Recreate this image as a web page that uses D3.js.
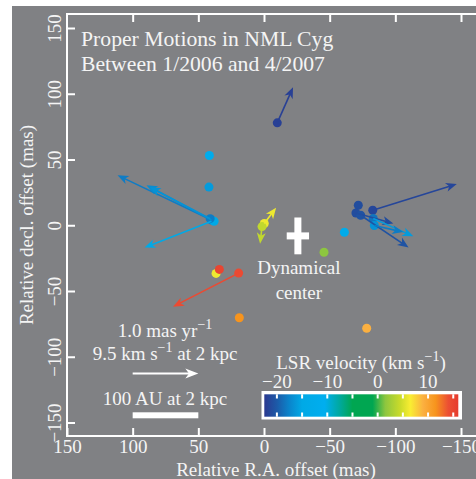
<!DOCTYPE html>
<html>
<head>
<meta charset="utf-8">
<script src="https://cdn.jsdelivr.net/npm/d3@7"></script>
<style>
  body { margin: 0; background: #fff; }
  text { font-family: "Liberation Serif", "Times New Roman", serif; fill: #f4f4f4; }
</style>
</head>
<body>
<div id="chart"></div>
<script>
// tick values
const xTicks = [150, 100, 50, 0, -50, -100, -150];
const yTicks = [150, 100, 50, 0, -50, -100, -150];
const velTicks = [-20, -15, -10, -5, 0, 5, 10, 15];
const velLabels = [-20, -10, 0, 10];

// colour bar (LSR velocity, km/s)
const velStops  = [-22.5, -20, -17.5, -15, -10.5, -7.5, -5, -1, 1.5, 4.5, 6.5, 9, 11.5, 14, 16];
const velColors = ["#2b3990", "#1c5aa8", "#0a85cc", "#00a9e6", "#00aeef", "#00a99d", "#00a651", "#00a651",
                   "#8dc63f", "#cbdb2a", "#f9ed32", "#fbb040", "#f7941d", "#ec4f33", "#e63b2e"];

// maser spots: RA offset, Dec offset (mas), LSR velocity (km/s)
const spotRa  = [-10.1, 41.6, 41.9, 40, 38, 41, -0.2, 1.5, -45.7, -61.2, -71.8, -70, -73.6, -82.8, -83.2, -84, 36.5, 34, 19.3, 18.8, -78.2];
const spotDec = [77.9, 53, 29, 4, 3, 5, 1.3, -1, -20.5, -5.3, 15.2, 9.3, 7.6, 11.4, 5.1, -0.2, -36.6, -33.6, -36.4, -70.3, -78.3];
const spotVel = [-22, -12, -16, -17, -15, -18, 6, 4, 1.5, -13, -21, -21, -20.5, -21.5, -18.5, -16.5, 6, 15, 14.5, 11.5, 9];

// proper motions: start RA, Dec (mas), motion (mas/yr), LSR velocity
const pmStartRa  = [-10.1, 40, 40, 41, 40, -82.8, -70, -83.2, -73.6, -84, -0.2, 1.5, 19.3];
const pmStartDec = [77.9, 4, 4, 5, 3, 11.4, 9.3, 5.1, 7.6, -0.2, 1.3, -1, -36.4];
const pmRa  = [-0.24, 1.43, 0.99, 0.92, 1.02, -1.28, -0.57, -0.61, -0.73, -0.44, -0.18, 0.03, 1.0];
const pmDec = [0.54, 0.68, 0.53, 0.48, -0.40, 0.40, -0.16, -0.27, -0.49, -0.10, 0.24, -0.26, -0.51];
const pmVel = [-22, -18, -17, -16.5, -15, -21.5, -21, -16, -20.5, -18, 6, 4, 14.5];

// dynamical center and its uncertainty (mas)
const centerPos = [-25.8, -8.1];
const centerErr = [8.5, 14];

const arrowScale = 50; // mas drawn per 1 mas/yr

const W = 476, H = 479;
const frame = { left: 67, top: 14, right: 500, bottom: 436 };

const svg = d3.select("#chart").append("svg")
    .attr("width", W)
    .attr("height", H);

svg.append("rect")
    .attr("x", 12).attr("y", 6)
    .attr("width", W - 12).attr("height", H - 6)
    .attr("fill", "#808184");

const x = d3.scaleLinear().domain([150, -150]).range([67, 461]);
const y = d3.scaleLinear().domain([-150, 150]).range([422.5, 28]);
const color = d3.scaleLinear().domain(velStops).range(velColors);

// axes (ticks point inward)
function styleAxis(g) {
    g.attr("font-family", null).attr("font-size", 19);
    g.select(".domain").remove();
    g.selectAll(".tick line").attr("stroke", "#fff").attr("stroke-width", 2);
}

svg.append("g")
    .attr("transform", `translate(0,${frame.bottom})`)
    .call(d3.axisBottom(x).tickValues(xTicks).tickSizeInner(-8).tickSizeOuter(0).tickFormat(d3.format("d")))
    .call(styleAxis)
    .selectAll("text").attr("y", 17).attr("dy", 0);

svg.append("g")
    .attr("transform", `translate(0,${frame.top})`)
    .call(d3.axisTop(x).tickValues(xTicks.slice(1)).tickSizeInner(-8).tickSizeOuter(0).tickFormat(""))
    .call(styleAxis);

svg.append("g")
    .attr("transform", `translate(${frame.left},0)`)
    .call(d3.axisLeft(y).tickValues(yTicks).tickSizeInner(-8).tickSizeOuter(0).tickFormat(d3.format("d")))
    .call(styleAxis)
    .selectAll("text")
    .attr("x", 0).attr("y", 0).attr("dy", 0)
    .attr("text-anchor", "middle")
    .attr("transform", "translate(-6,0) rotate(-90)");

// frame lines
svg.append("path")
    .attr("d", `M${frame.right},${frame.top}H${frame.left}V${frame.bottom}H${frame.right}`)
    .attr("fill", "none")
    .attr("stroke", "#fff")
    .attr("stroke-width", 2);

// arrow helper
function drawArrow(g, x1, y1, x2, y2, col, width, headLen, headW) {
    const a = Math.atan2(y2 - y1, x2 - x1);
    g.append("line")
        .attr("x1", x1).attr("y1", y1)
        .attr("x2", x2 - Math.cos(a) * headLen * 0.6)
        .attr("y2", y2 - Math.sin(a) * headLen * 0.6)
        .attr("stroke", col)
        .attr("stroke-width", width);
    g.append("path")
        .attr("d", `M0,0L${-headLen},${-headW}L${-headLen * 0.72},0L${-headLen},${headW}Z`)
        .attr("transform", `translate(${x2},${y2}) rotate(${a * 180 / Math.PI})`)
        .attr("fill", col);
}

// spots
const spots = spotRa.map((d, i) => ({ ra: d, dec: spotDec[i], v: spotVel[i] }));
svg.append("g").selectAll("circle")
    .data(spots)
    .join("circle")
    .attr("cx", d => x(d.ra))
    .attr("cy", d => y(d.dec))
    .attr("r", 4.5)
    .attr("fill", d => color(d.v));

// proper motion arrows
const arrows = svg.append("g");
pmRa.forEach((d, i) => {
    const ra0 = pmStartRa[i], dec0 = pmStartDec[i];
    drawArrow(arrows,
        x(ra0), y(dec0),
        x(ra0 + d * arrowScale), y(dec0 + pmDec[i] * arrowScale),
        color(pmVel[i]), 1.6, 11, 4.5);
});

// dynamical center
const cx = x(centerPos[0]), cy = y(centerPos[1]);
svg.append("rect")
    .attr("x", x(centerPos[0] + centerErr[0]))
    .attr("y", cy - 3.5)
    .attr("width", x(centerPos[0] - centerErr[0]) - x(centerPos[0] + centerErr[0]))
    .attr("height", 7)
    .attr("fill", "#fff");
svg.append("rect")
    .attr("x", cx - 3.5)
    .attr("y", y(centerPos[1] + centerErr[1]))
    .attr("width", 7)
    .attr("height", y(centerPos[1] - centerErr[1]) - y(centerPos[1] + centerErr[1]))
    .attr("fill", "#fff");
svg.append("text").attr("x", cx + 1).attr("y", 274).attr("text-anchor", "middle")
    .attr("font-size", 19).text("Dynamical");
svg.append("text").attr("x", cx + 1).attr("y", 299).attr("text-anchor", "middle")
    .attr("font-size", 19).text("center");

// title
svg.append("text").attr("x", 81).attr("y", 46).attr("font-size", 21.7).text("Proper Motions in NML Cyg");
svg.append("text").attr("x", 81).attr("y", 71).attr("font-size", 21.7).text("Between 1/2006 and 4/2007");

// axis titles
svg.append("text")
    .attr("x", 276).attr("y", 476)
    .attr("text-anchor", "middle")
    .attr("font-size", 19)
    .text("Relative R.A. offset (mas)");
svg.append("text")
    .attr("transform", "translate(33,225) rotate(-90)")
    .attr("text-anchor", "middle")
    .attr("font-size", 19)
    .text("Relative decl. offset (mas)");

// reference arrow and scale bar
const t1 = svg.append("text").attr("x", 165).attr("y", 337).attr("text-anchor", "middle").attr("font-size", 19);
t1.append("tspan").text("1.0 mas yr");
t1.append("tspan").attr("dy", -8).attr("font-size", 14).text("−1");

const t2 = svg.append("text").attr("x", 165).attr("y", 360).attr("text-anchor", "middle").attr("font-size", 19);
t2.append("tspan").text("9.5 km s");
t2.append("tspan").attr("dy", -8).attr("font-size", 14).text("−1");
t2.append("tspan").attr("dy", 8).text(" at 2 kpc");

drawArrow(svg, x(100), 373.5, x(100 - 1.0 * arrowScale), 373.5, "#fff", 2, 13, 5);

svg.append("text").attr("x", 165).attr("y", 405).attr("text-anchor", "middle")
    .attr("font-size", 19).text("100 AU at 2 kpc");
svg.append("rect")
    .attr("x", x(100)).attr("y", 412.3)
    .attr("width", x(50) - x(100)).attr("height", 6)
    .attr("fill", "#fff");

// colour bar
const vx = d3.scaleLinear().domain([velStops[0], velStops[velStops.length - 1]]).range([264.3, 458.3]);
const grad = svg.append("defs").append("linearGradient").attr("id", "velgrad");
velStops.forEach((v, i) => {
    grad.append("stop")
        .attr("offset", (vx(v) - vx.range()[0]) / (vx.range()[1] - vx.range()[0]))
        .attr("stop-color", velColors[i]);
});
svg.append("rect")
    .attr("x", 261.5).attr("y", 391)
    .attr("width", 200.5).attr("height", 28.5)
    .attr("fill", "#fff");
svg.append("rect")
    .attr("x", vx.range()[0]).attr("y", 394.3)
    .attr("width", vx.range()[1] - vx.range()[0]).attr("height", 22.4)
    .attr("fill", "url(#velgrad)");
svg.append("g").selectAll("line")
    .data(velTicks.flatMap(v => [[v, 394.3, 398.5], [v, 412.5, 416.7]]))
    .join("line")
    .attr("x1", d => vx(d[0])).attr("x2", d => vx(d[0]))
    .attr("y1", d => d[1]).attr("y2", d => d[2])
    .attr("stroke", "#fff").attr("stroke-width", 2);
svg.append("g").selectAll("text")
    .data(velLabels)
    .join("text")
    .attr("x", d => vx(d))
    .attr("y", 387.5)
    .attr("text-anchor", "middle")
    .attr("font-size", 19)
    .text(d3.format("d"));

const ct = svg.append("text").attr("x", 361).attr("y", 369).attr("text-anchor", "middle").attr("font-size", 19);
ct.append("tspan").text("LSR velocity (km s");
ct.append("tspan").attr("dy", -8).attr("font-size", 14).text("−1");
ct.append("tspan").attr("dy", 8).text(")");
</script>
</body>
</html>
